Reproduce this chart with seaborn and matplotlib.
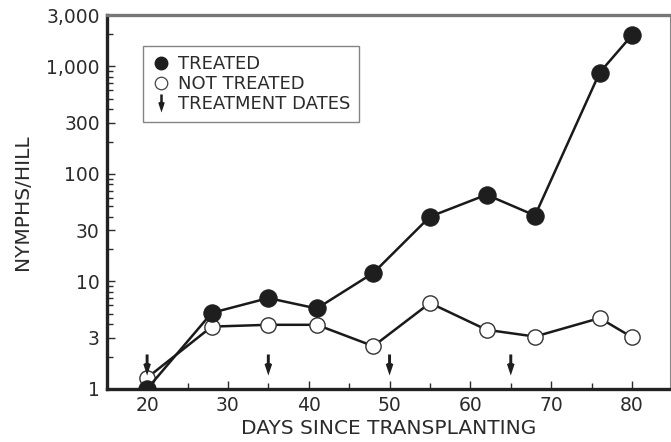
import matplotlib.pyplot as plt
import numpy as np
import pandas as pd
import seaborn as sns
from matplotlib.lines import Line2D
from matplotlib.path import Path
from matplotlib.ticker import FixedLocator, FuncFormatter, LogLocator, MultipleLocator

days = [20, 28, 35, 41, 48, 55, 62, 68, 76, 80]
treated = [1.0, 5.1, 7.0, 5.6, 12, 40, 64, 41, 875, 1950]
not_treated = [1.27, 3.8, 3.95, 3.95, 2.5, 6.3, 3.55, 3.07, 4.56, 3.03]
treatment_dates = [20, 35, 50, 65]
y_ticks = [1, 3, 10, 30, 100, 300, 1000, 3000]
x_ticks = [20, 30, 40, 50, 60, 70, 80]

df = pd.DataFrame({"day": days, "treated": treated, "not_treated": not_treated})
arrows = pd.DataFrame({"day": treatment_dates, "y": [1.67] * len(treatment_dates)})

sns.set_style("ticks")
plt.rcParams['font.family'] = ['DejaVu Sans']
ink = "#2b2b2b"

# downward arrow marker: stem + pointed head
arrow_marker = Path([(-0.14, 1), (0.14, 1), (0.14, 0.2), (0.36, 0.08), (0, -1),
                     (-0.36, 0.08), (-0.14, 0.2), (-0.14, 1)], closed=True)

fig = plt.figure(figsize=(6.71, 4.42), dpi=100)
ax = fig.add_axes([0.159, 0.12, 0.8395, 0.846])

sns.lineplot(data=df, x="day", y="not_treated", ax=ax, color="#1a1a1a", lw=1.8,
             marker="o", markersize=11, markerfacecolor="white",
             markeredgecolor="#333333", markeredgewidth=1.0, zorder=3)
sns.lineplot(data=df, x="day", y="treated", ax=ax, color="#1a1a1a", lw=1.8,
             marker="o", markersize=12.5, markerfacecolor="#1e1e1e",
             markeredgecolor="#1e1e1e", zorder=4)
sns.scatterplot(data=arrows, x="day", y="y", ax=ax, marker=arrow_marker, s=230,
                color="#1e1e1e", edgecolor="none", zorder=5, legend=False)

ax.set_yscale("log")
ax.set_xlim(15, 84.7)
ax.set_ylim(1, 3000)
ax.yaxis.set_major_locator(FixedLocator(y_ticks))
ax.yaxis.set_minor_locator(LogLocator(base=10, subs=np.arange(2, 10)))
ax.yaxis.set_major_formatter(FuncFormatter(lambda v, p: f"{v:,.0f}"))
ax.xaxis.set_major_locator(FixedLocator(x_ticks))
ax.xaxis.set_minor_locator(MultipleLocator(5))

ax.tick_params(axis="both", which="both", direction="in", colors=ink,
               labelsize=13.5, width=1.0)
ax.tick_params(axis="both", which="major", length=6, pad=5)
ax.tick_params(axis="both", which="minor", length=4)
ax.tick_params(axis="x", which="minor", labelbottom=False)

ax.set_xlabel("DAYS SINCE TRANSPLANTING", fontsize=14.5, color=ink, labelpad=3)
ax.set_ylabel("NYMPHS/HILL", fontsize=14.5, color=ink, labelpad=10)

for side in ["left", "bottom"]:
    ax.spines[side].set_linewidth(2.4)
    ax.spines[side].set_color("#222222")
ax.spines["top"].set_linewidth(2.4)
ax.spines["top"].set_color("#777777")
ax.spines["right"].set_linewidth(0.8)
ax.spines["right"].set_color("#888888")

handles = [
    Line2D([], [], ls="none", marker="o", markersize=9, markerfacecolor="#1e1e1e",
           markeredgecolor="#1e1e1e"),
    Line2D([], [], ls="none", marker="o", markersize=9, markerfacecolor="white",
           markeredgecolor="#444444", markeredgewidth=0.9),
    Line2D([], [], ls="none", marker=arrow_marker, markersize=13,
           markerfacecolor="#1e1e1e", markeredgecolor="none"),
]
leg = ax.legend(handles, ["TREATED", "NOT TREATED", "TREATMENT DATES"],
                loc="upper left", bbox_to_anchor=(0.064, 0.917), borderaxespad=0,
                fontsize=13, frameon=True, fancybox=False, handlelength=1.0,
                handletextpad=0.45, labelspacing=0.12, borderpad=0.5,
                labelcolor=ink)
leg.get_frame().set_edgecolor("#666666")
leg.get_frame().set_linewidth(1.0)

fig.savefig("out.png", dpi=100)
